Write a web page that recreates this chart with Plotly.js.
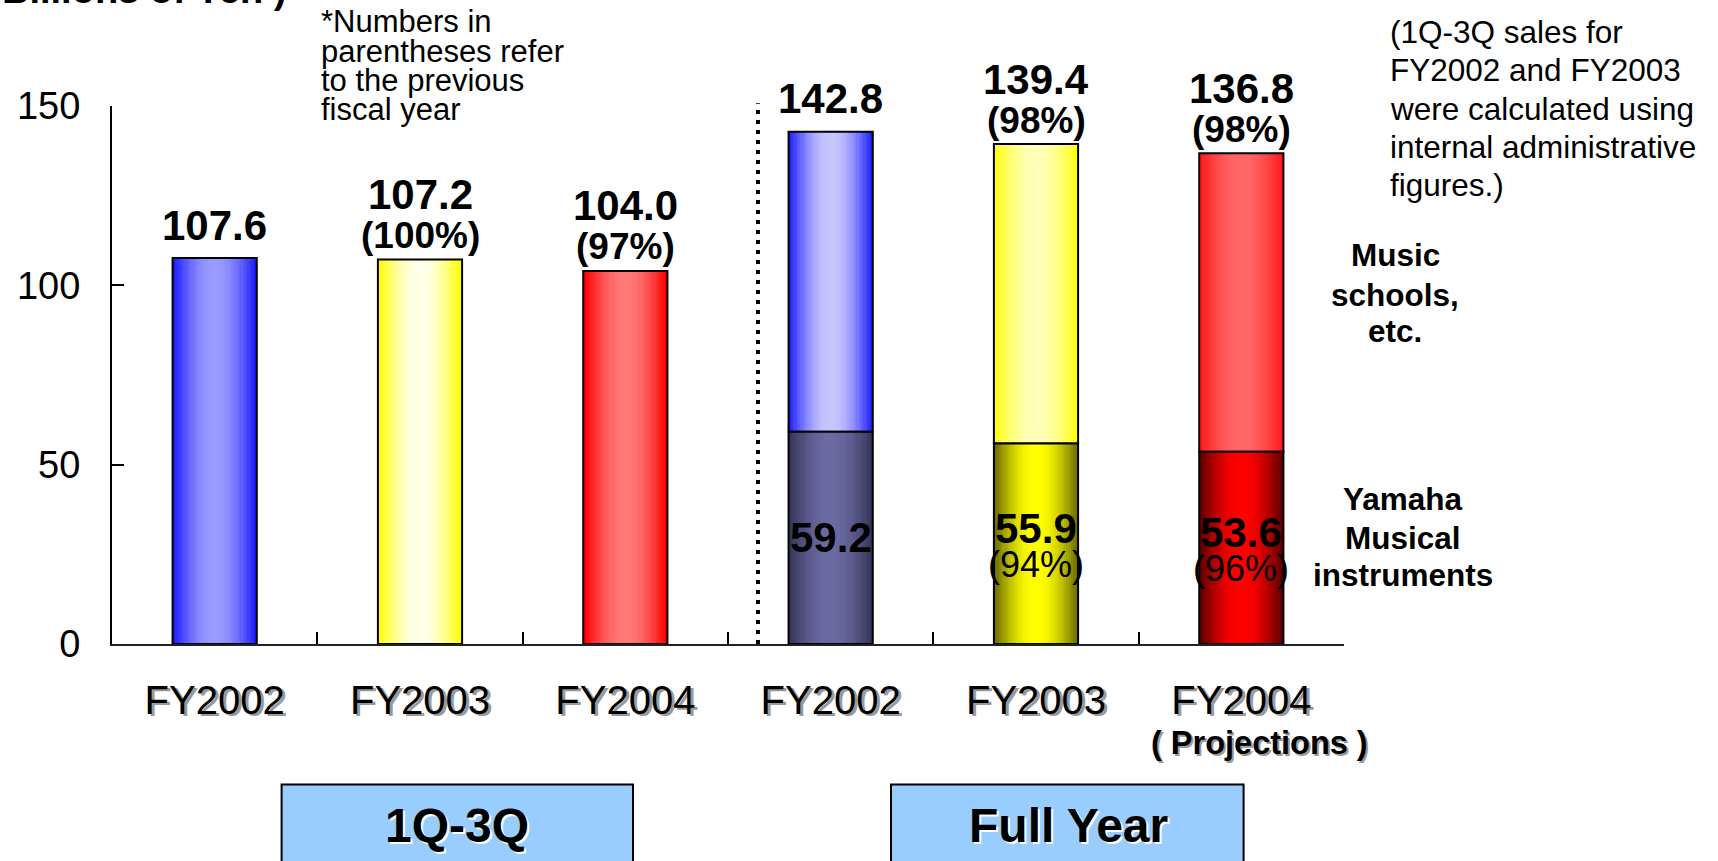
<!DOCTYPE html>
<html>
<head>
<meta charset="utf-8">
<script src="https://cdn.plot.ly/plotly-3.0.1.min.js"></script>
<style>
  html, body { margin: 0; padding: 0; background: #ffffff; }
  #chart { width: 1718px; height: 861px; }
</style>
</head>
<body>
<div id="chart"></div>
<script>
// ---------------- DATA ----------------
const periods = ['1Q-3Q', '1Q-3Q', '1Q-3Q', 'Full Year', 'Full Year', 'Full Year'];
const fiscalYears = ['FY2002', 'FY2003', 'FY2004', 'FY2002', 'FY2003', 'FY2004'];
const totalSales = [107.6, 107.2, 104.0, 142.8, 139.4, 136.8];
const totalPct = ['', '(100%)', '(97%)', '', '(98%)', '(98%)'];
const instrumentSales = [null, null, null, 59.2, 55.9, 53.6];
const instrumentPct = ['', '', '', '', '(94%)', '(96%)'];
const yTicks = [0, 50, 100, 150];
const groupLabels = ['1Q-3Q', 'Full Year'];
const schoolLabel = ['Music', 'schools,', 'etc.'];
const instrumentLabel = ['Yamaha', 'Musical', 'instruments'];
const unitLabel = 'Billions of Yen )';
const noteLeft = ['*Numbers in', 'parentheses refer', 'to the previous', 'fiscal year'];
const noteRight = ['(1Q-3Q sales for', 'FY2002 and FY2003', 'were calculated using', 'internal administrative', 'figures.)'];
const projectionLabel = '( Projections )';

// ---------------- STYLE ----------------
const FONT = 'Liberation Sans, Arial, Helvetica, sans-serif';
const BAR_W = 0.41;
const STEPS = 18;
// [edge, center] colours per category
const upperColors = [
  ['#1c1cff', '#9a9aff'],
  ['#ffff00', '#ffffea'],
  ['#ff0000', '#ff7878'],
  ['#2222ff', '#c6c6ff'],
  ['#ffff10', '#ffffb8'],
  ['#ff1a1a', '#ff6666']
];
const lowerColors = [
  ['#000000', '#000000'],
  ['#000000', '#000000'],
  ['#000000', '#000000'],
  ['#36365a', '#6a6aa2'],
  ['#6e6e00', '#ffff00'],
  ['#5e0000', '#ff0000']
];

function hex(c) { return [parseInt(c.slice(1,3),16), parseInt(c.slice(3,5),16), parseInt(c.slice(5,7),16)]; }
function mix(a, b, t) {
  const A = hex(a), B = hex(b);
  return 'rgb(' + A.map((v, i) => Math.round(v + (B[i] - v) * t)).join(',') + ')';
}

const keys = periods.map((p, i) => p + ' ' + fiscalYears[i]);
const upperBase = instrumentSales.map(v => v || 0);
const upperY = totalSales.map((t, i) => t - upperBase[i]);

const traces = [];
function gradientBars(y, base, colors) {
  for (let k = 0; k < STEPS; k++) {
    const t = Math.sin((k / (STEPS - 1)) * Math.PI / 2);
    traces.push({
      type: 'bar', x: keys, y: y, base: base,
      width: BAR_W * (1 - k / STEPS),
      marker: { color: colors.map(c => mix(c[0], c[1], t)), line: { width: 0 } },
      hoverinfo: 'skip', showlegend: false
    });
  }
  traces.push({
    type: 'bar', x: keys, y: y, base: base, width: BAR_W,
    marker: { color: 'rgba(0,0,0,0)', line: { width: 2, color: '#000000' } },
    hoverinfo: 'skip', showlegend: false
  });
}
gradientBars(upperY, upperBase, upperColors);
gradientBars(instrumentSales, instrumentSales.map(() => 0), lowerColors);

// ---------------- ANNOTATIONS ----------------
const NUM = 42, PCT = 37;
const ann = [];
keys.forEach((k, i) => {
  const hasPct = totalPct[i] !== '';
  ann.push({ x: k, y: totalSales[i], xref: 'x', yref: 'y', text: totalSales[i].toFixed(1),
    showarrow: false, yanchor: 'middle', yshift: hasPct ? 65 : 33,
    font: { family: FONT, size: NUM, color: '#000', weight: 'bold' } });
  if (hasPct) {
    ann.push({ x: k, y: totalSales[i], xref: 'x', yref: 'y', text: totalPct[i],
      showarrow: false, yanchor: 'middle', yshift: 24,
      font: { family: FONT, size: PCT, color: '#000', weight: 'bold' } });
  }
  if (instrumentSales[i] !== null) {
    const hasP = instrumentPct[i] !== '';
    ann.push({ x: k, y: instrumentSales[i] / 2, xref: 'x', yref: 'y', text: instrumentSales[i].toFixed(1),
      showarrow: false, yanchor: 'middle', yshift: hasP ? 15 : 0,
      font: { family: FONT, size: NUM, color: '#000', weight: 'bold' } });
    if (hasP) {
      ann.push({ x: k, y: instrumentSales[i] / 2, xref: 'x', yref: 'y', text: instrumentPct[i],
        showarrow: false, yanchor: 'middle', yshift: -21,
        font: { family: FONT, size: 36, color: '#000' } });
    }
  }
});

// unit label (cut at top)
ann.push({ xref: 'paper', yref: 'paper', x: -0.0909, y: 1.1736, xanchor: 'left', yanchor: 'bottom',
  text: unitLabel, showarrow: false, font: { family: FONT, size: 38, color: '#000', weight: 'bold' } });

function pyToPaper(py) { return (644 - py) / 538; }
function pxToPaper(px) { return (px - 112) / 1232; }

// left note lines
const notePx = [22, 51.5, 81, 109.6];
noteLeft.forEach((t, i) => {
  ann.push({ xref: 'paper', yref: 'paper', x: pxToPaper(319), y: pyToPaper(notePx[i]),
    xanchor: 'left', yanchor: 'middle', text: t, showarrow: false,
    font: { family: FONT, size: 31, color: '#000' } });
});
// right note lines
const noteRightPy = [32, 70.2, 108.5, 146.8, 184.5];
noteRight.forEach((t, i) => {
  ann.push({ xref: 'paper', yref: 'paper', x: pxToPaper(1388), y: pyToPaper(noteRightPy[i]),
    xanchor: 'left', yanchor: 'middle', text: t, showarrow: false,
    font: { family: FONT, size: 31.5, color: '#000' } });
});
// segment labels
const schoolPy = [255, 294.5, 331];
schoolLabel.forEach((t, i) => {
  ann.push({ xref: 'paper', yref: 'paper', x: pxToPaper(1395), y: pyToPaper(schoolPy[i]),
    xanchor: 'center', yanchor: 'middle', text: t, showarrow: false,
    font: { family: FONT, size: 31.5, color: '#000', weight: 'bold' } });
});
const instrPy = [498.5, 537.5, 575];
instrumentLabel.forEach((t, i) => {
  ann.push({ xref: 'paper', yref: 'paper', x: pxToPaper(1403), y: pyToPaper(instrPy[i]),
    xanchor: 'center', yanchor: 'middle', text: t, showarrow: false,
    font: { family: FONT, size: 31.5, color: '#000', weight: 'bold' } });
});
// projections
ann.push({ xref: 'paper', yref: 'paper', x: pxToPaper(1259), y: pyToPaper(743), xanchor: 'center', yanchor: 'middle',
  text: projectionLabel, showarrow: false,
  font: { family: FONT, size: 32.5, color: '#000', weight: 'bold', shadow: '2px 2px 0px #9a9a9a' } });
// group boxes text
ann.push({ xref: 'paper', yref: 'paper', x: pxToPaper(457), y: pyToPaper(825), xanchor: 'center', yanchor: 'middle',
  text: groupLabels[0], showarrow: false,
  font: { family: FONT, size: 48, color: '#000', weight: 'bold', shadow: '2px 2px 0px #ffffff' } });
ann.push({ xref: 'paper', yref: 'paper', x: pxToPaper(1068), y: pyToPaper(825), xanchor: 'center', yanchor: 'middle',
  text: groupLabels[1], showarrow: false,
  font: { family: FONT, size: 48, color: '#000', weight: 'bold', shadow: '2px 2px 0px #ffffff' } });

const shapes = [
  { type: 'line', xref: 'x', yref: 'paper', x0: 2.646, x1: 2.646, y0: 0, y1: 1.005,
    line: { color: '#000', width: 4, dash: '4px,6px' } },
  { type: 'rect', xref: 'paper', yref: 'paper', x0: pxToPaper(281.6), x1: pxToPaper(633), y0: pyToPaper(784.5), y1: -0.5,
    fillcolor: '#99ccff', line: { color: '#000', width: 2 }, layer: 'below' },
  { type: 'rect', xref: 'paper', yref: 'paper', x0: pxToPaper(891), x1: pxToPaper(1243.6), y0: pyToPaper(784.5), y1: -0.5,
    fillcolor: '#99ccff', line: { color: '#000', width: 2 }, layer: 'below' }
];

const layout = {
  width: 1718, height: 861,
  margin: { l: 112, r: 374, t: 106, b: 217, pad: 0 },
  paper_bgcolor: '#ffffff', plot_bgcolor: '#ffffff',
  barmode: 'overlay', bargap: 0,
  showlegend: false, hovermode: false,
  font: { family: FONT, color: '#000' },
  xaxis: {
    type: 'category', categoryorder: 'array', categoryarray: keys,
    tickvals: keys, ticktext: fiscalYears,
    range: [-0.5, 5.5], fixedrange: true,
    ticks: 'inside', tickson: 'boundaries', ticklen: 12, tickwidth: 2, tickcolor: '#000',
    showline: true, linecolor: '#222', linewidth: 2, showgrid: false, zeroline: false,
    ticklabelstandoff: 20,
    tickfont: { family: FONT, size: 40, color: '#000', shadow: '3px 2px 0px #9a9a9a' }
  },
  yaxis: {
    range: [0, 150], tickvals: yTicks, ticktext: yTicks.map(String), fixedrange: true,
    ticks: 'inside', ticklen: 12, tickwidth: 2, tickcolor: '#000',
    showline: true, linecolor: '#000', linewidth: 2, showgrid: false, zeroline: false,
    ticklabelstandoff: 22,
    tickfont: { family: FONT, size: 38, color: '#000' }
  },
  annotations: ann,
  shapes: shapes
};

Plotly.newPlot('chart', traces, layout, { displayModeBar: false, staticPlot: true });
</script>
</body>
</html>
